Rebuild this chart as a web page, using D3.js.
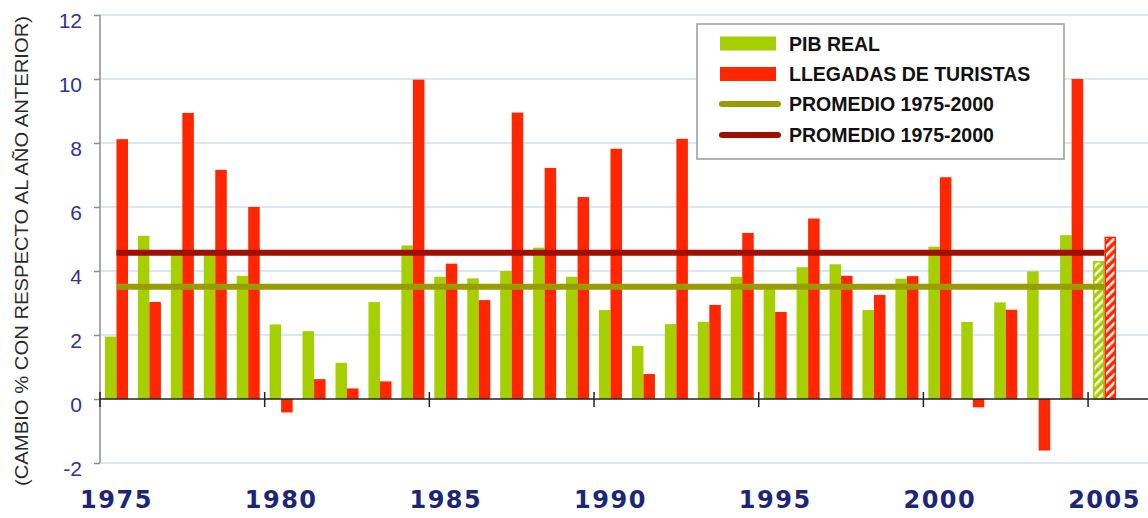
<!DOCTYPE html>
<html>
<head>
<meta charset="utf-8">
<script src="https://cdn.jsdelivr.net/npm/d3@7"></script>
<style>
  html, body { margin: 0; padding: 0; background: #fff; }
  svg { display: block; }
</style>
</head>
<body>
<svg id="chart" width="1148" height="518"></svg>
<script>
// data
const years = d3.range(1975, 2006);
const pibReal = [1.95, 5.1, 4.5, 4.55, 3.85, 2.33, 2.12, 1.13, 3.03, 4.8, 3.82, 3.77, 4.0, 4.73, 3.82,
  2.78, 1.66, 2.34, 2.41, 3.82, 3.5, 4.12, 4.21, 2.78, 3.76, 4.76, 2.41, 3.02, 3.99, 5.12, 4.29];
const llegadas = [8.12, 3.03, 8.94, 7.16, 6.0, -0.42, 0.62, 0.33, 0.55, 9.98, 4.23, 3.09, 8.95, 7.22, 6.31,
  7.82, 0.78, 8.13, 2.94, 5.19, 2.72, 5.64, 3.85, 3.25, 3.84, 6.93, -0.26, 2.79, -1.61, 10.0, 5.05];
const projectedYears = [2005];
const promedioPib = 3.51;
const promedioLlegadas = 4.57;
const yTicks = [-2, 0, 2, 4, 6, 8, 10, 12];
const xLabelYears = [1975, 1980, 1985, 1990, 1995, 2000, 2005];
const legendLabels = ['PIB REAL', 'LLEGADAS DE TURISTAS', 'PROMEDIO 1975-2000', 'PROMEDIO 1975-2000'];

const green = '#a6cf00';
const red = '#ff2600';
const olive = '#989c02';
const darkRed = '#9e1004';
const gridColor = '#cddff1';

const svg = d3.select('#chart');
const W = 1148;
const left = 100;

const x = d3.scaleBand().domain(years).range([left, 1121]);
const x1 = d3.scaleBand().domain(['pib', 'tur']).range([0, x.bandwidth()]).paddingOuter(0.43);
const y = d3.scaleLinear().domain([-2, 12]).range([463, 15]);

const rows = years.map((yr, i) => ({ year: yr, pib: pibReal[i], tur: llegadas[i], projected: projectedYears.includes(yr) }));

// hatch patterns for the estimated year
const defs = svg.append('defs');
[['hatchGreen', green], ['hatchRed', red]].forEach(([id, c]) => {
  const p = defs.append('pattern')
    .attr('id', id)
    .attr('patternUnits', 'userSpaceOnUse')
    .attr('width', 6).attr('height', 6)
    .attr('patternTransform', 'rotate(45)');
  p.append('rect').attr('width', 6).attr('height', 6).attr('fill', c);
  p.append('rect').attr('x', 0).attr('width', 2.4).attr('height', 6).attr('fill', '#fff');
});

// gridlines
svg.append('g')
  .selectAll('line')
  .data(yTicks.filter(d => d !== 0))
  .join('line')
  .attr('x1', left).attr('x2', W)
  .attr('y1', d => y(d)).attr('y2', d => y(d))
  .attr('stroke', gridColor)
  .attr('stroke-width', 1.5);

// bars
const groups = svg.append('g')
  .selectAll('g')
  .data(rows)
  .join('g')
  .attr('transform', d => `translate(${x(d.year)},0)`);

groups.selectAll('rect')
  .data(d => [
    { key: 'pib', value: d.pib, projected: d.projected },
    { key: 'tur', value: d.tur, projected: d.projected }
  ])
  .join('rect')
  .attr('x', d => x1(d.key) + (d.projected ? 0.75 : 0))
  .attr('width', d => x1.bandwidth() - (d.projected ? 1.5 : 0))
  .attr('y', d => y(Math.max(0, d.value)))
  .attr('height', d => Math.abs(y(d.value) - y(0)))
  .attr('fill', d => d.projected ? `url(#${d.key === 'pib' ? 'hatchGreen' : 'hatchRed'})` : (d.key === 'pib' ? green : red))
  .attr('stroke', d => d.projected ? (d.key === 'pib' ? green : red) : 'none')
  .attr('stroke-width', 1.5);

// average lines
const xStart = x(years[0]) + x.bandwidth() / 2;
const xEnd = x(years[years.length - 1]) + x.bandwidth() / 2;
svg.append('g')
  .selectAll('line')
  .data([{ v: promedioLlegadas, c: darkRed }, { v: promedioPib, c: olive }])
  .join('line')
  .attr('x1', xStart).attr('x2', xEnd)
  .attr('y1', d => y(d.v)).attr('y2', d => y(d.v))
  .attr('stroke', d => d.c)
  .attr('stroke-width', 6);

// y axis
const yAxis = svg.append('g')
  .attr('transform', `translate(${left},0)`)
  .call(d3.axisLeft(y).tickValues(yTicks).tickSize(6).tickPadding(12).tickFormat(d => String(d)));
yAxis.select('.domain').attr('stroke', '#8c8c8c').attr('stroke-width', 1.5).attr('d', `M0,${y(12)}V${y(-2)}`);
yAxis.selectAll('.tick line').attr('stroke', '#8c8c8c').attr('stroke-width', 1.5);
yAxis.selectAll('.tick text')
  .attr('font-family', '"Liberation Sans", Arial, sans-serif')
  .attr('font-size', 21)
  .attr('fill', '#2e3394')
  .attr('dy', '0.6em');

// x axis at zero
svg.append('line')
  .attr('x1', left).attr('x2', W)
  .attr('y1', y(0)).attr('y2', y(0))
  .attr('stroke', '#222')
  .attr('stroke-width', 1.5);
svg.append('g')
  .selectAll('line')
  .data(xLabelYears)
  .join('line')
  .attr('x1', d => x(d)).attr('x2', d => x(d))
  .attr('y1', y(0) - 7).attr('y2', y(0) + 8)
  .attr('stroke', '#222')
  .attr('stroke-width', 1.5);

const xAxis = svg.append('g')
  .attr('transform', `translate(0,${y(-2)})`)
  .call(d3.axisBottom(x).tickValues(xLabelYears).tickSize(0).tickPadding(28));
xAxis.select('.domain').remove();
xAxis.selectAll('.tick text')
  .attr('font-family', '"DejaVu Sans", Verdana, sans-serif')
  .attr('font-weight', 'bold')
  .attr('font-size', 24)
  .attr('letter-spacing', 1.5)
  .attr('fill', '#1c2677');

// y axis title
svg.append('text')
  .attr('transform', `translate(28,251) rotate(-90)`)
  .attr('text-anchor', 'middle')
  .attr('font-family', '"Liberation Sans", Arial, sans-serif')
  .attr('font-size', 18)
  .attr('fill', '#2a2a2a')
  .attr('textLength', 470)
  .attr('lengthAdjust', 'spacingAndGlyphs')
  .text('(CAMBIO % CON RESPECTO AL AÑO ANTERIOR)');

// legend
const legend = svg.append('g').attr('transform', 'translate(697,24)');
legend.append('rect')
  .attr('width', 367).attr('height', 135)
  .attr('fill', '#fff')
  .attr('stroke', '#9a9a9a')
  .attr('stroke-width', 1.5);

const legendItems = [
  { label: legendLabels[0], type: 'rect', color: green, cy: 19.5 },
  { label: legendLabels[1], type: 'rect', color: red, cy: 50 },
  { label: legendLabels[2], type: 'line', color: olive, cy: 80 },
  { label: legendLabels[3], type: 'line', color: darkRed, cy: 111 }
];
legendItems.forEach(it => {
  if (it.type === 'rect') {
    legend.append('rect')
      .attr('x', 23).attr('y', it.cy - 7)
      .attr('width', 56).attr('height', 14)
      .attr('fill', it.color);
  } else {
    legend.append('line')
      .attr('x1', 25).attr('x2', 81)
      .attr('y1', it.cy).attr('y2', it.cy)
      .attr('stroke', it.color)
      .attr('stroke-width', 6)
      .attr('stroke-linecap', 'round');
  }
  legend.append('text')
    .attr('x', 92).attr('y', it.cy + 7)
    .attr('font-family', '"Liberation Sans", Arial, sans-serif')
    .attr('font-weight', 'bold')
    .attr('font-size', 19.5)
    .attr('fill', '#111')
    .text(it.label);
});
</script>
</body>
</html>
